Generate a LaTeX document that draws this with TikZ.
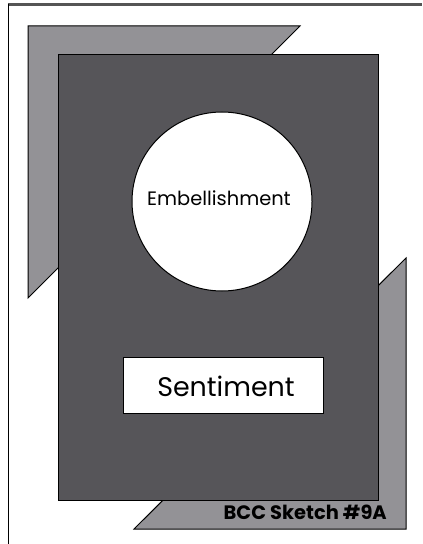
\documentclass[tikz,border=0pt]{standalone}
\usepackage{fontspec}
\setmainfont{Poppins}
\usetikzlibrary{shapes.geometric}
\definecolor{lightgr}{HTML}{939296}
\definecolor{darkgr}{HTML}{565559}
\definecolor{framegr}{HTML}{555555}
\begin{document}
\begin{tikzpicture}[x=1bp,y=-1bp,
  panel/.style={draw=black,line width=1bp,line join=miter},
  label/.style={font=\fontsize{#1}{#1}\selectfont,inner sep=0pt}]
\useasboundingbox (0,0) rectangle (422,544);
\fill[white] (0,0) rectangle (422,544);
% frame
\draw[framegr,line width=2.5bp] (8,4.5) -- (422,4.5);
\draw[black,line width=1.5bp] (8.5,4) -- (8.5,544);
% gray triangles
\filldraw[panel,fill=lightgr] (28,26) -- (300,26) -- (28,298) -- cycle;
\filldraw[panel,fill=lightgr] (406,258) -- (406,529) -- (134,529) -- cycle;
% main mat
\node[panel,fill=darkgr,minimum width=320bp,minimum height=446bp,inner sep=0pt,anchor=north west] (mat) at (58,54) {};
% embellishment
\node[draw=black,line width=1bp,fill=white,ellipse,minimum width=180bp,minimum height=179bp,inner sep=0pt] (emb) at (222,201.5) {};
\node[label=19.5] (embt) at (219,198) {Embellishment};
% sentiment
\node[draw=black,line width=1bp,fill=white,minimum width=200bp,minimum height=56bp,inner sep=0pt] (sent) at (223,385) {};
\node[label=27] (sentt) at (226,386) {Sentiment};
% title
\node[label=19.5,font=\fontsize{19.5}{19.5}\selectfont\bfseries,anchor=east] (title) at (387,512) {BCC Sketch \#9A};
\end{tikzpicture}
\end{document}
